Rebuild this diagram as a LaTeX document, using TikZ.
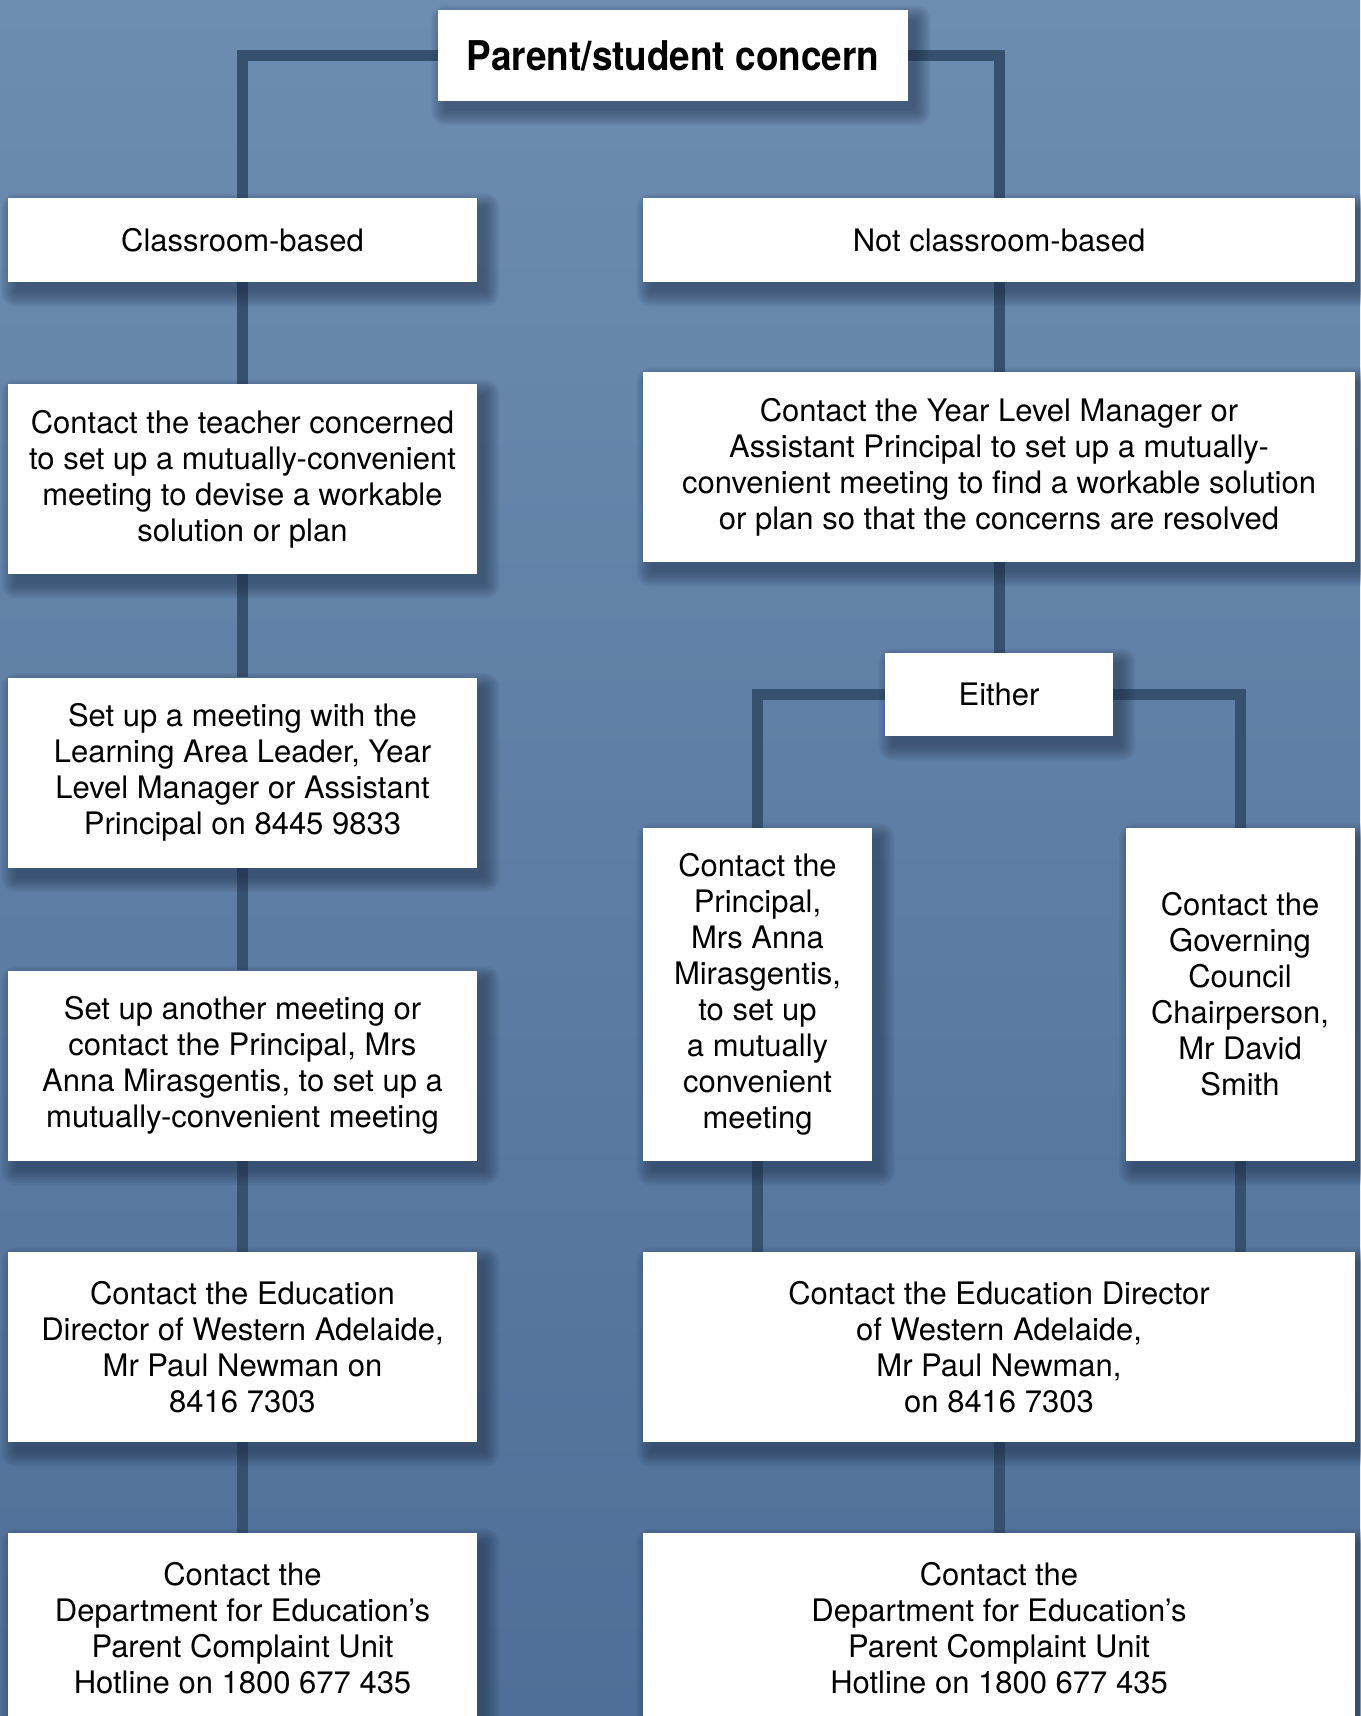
\documentclass[tikz,border=0pt]{standalone}
\usepackage{fontspec}
\setmainfont{TeX Gyre Heros}
\newfontfamily\titlefont{TeX Gyre Heros}[FakeStretch=0.9]
\usetikzlibrary{positioning}
\definecolor{PanelTop}{HTML}{6C8CB1}
\definecolor{PanelBottom}{HTML}{4F6F98}
\definecolor{LinkBlue}{HTML}{36506F}
\definecolor{ShadowBlue}{HTML}{1C2C44}
\pgfdeclarelayer{panel}
\pgfdeclarelayer{links}
\pgfdeclarelayer{shadowlayer}
\pgfsetlayers{panel,links,shadowlayer,main}

% soft shadow under a named card
\newcommand{\cardshadow}[1]{%
  \begin{pgfonlayer}{shadowlayer}
    \foreach \r in {0,2,...,14}
      \fill[ShadowBlue, opacity=0.075, rounded corners=\r*0.5pt]
        ([xshift=4pt-\r*0.5pt, yshift=-5pt+\r*0.5pt]#1.north west)
        rectangle ([xshift=4pt+\r*0.5pt, yshift=-5pt-\r*0.5pt]#1.south east);
  \end{pgfonlayer}}

\begin{document}
\begin{tikzpicture}[x=0.5pt, y=-0.5pt,
    font=\fontsize{15.5}{18}\selectfont,
    card/.style={shape=rectangle,
      fill=white,
      inner sep=0pt,
      align=center},
    leftcard/.style={card, minimum width=234.5pt, minimum height=95pt},
    widecard/.style={card, minimum width=356pt, minimum height=95pt},
    link/.style={draw=LinkBlue, line width=5.5pt}]
    \path [use as bounding box] (0,0) rectangle (1360,1716);
    \begin{pgfonlayer}{panel}
      \fill[top color=PanelTop, bottom color=PanelBottom] (0,0) rectangle (1360,1716);
    \end{pgfonlayer}

    \node[name=concern,
      card,
      minimum width=235pt,
      minimum height=45.5pt,
      font=\titlefont\bfseries\fontsize{20.5}{24}\selectfont] at (673,55.5) {Parent/student concern};

    % left column
    \node[name=classroom, leftcard, minimum height=42pt] at (242.5,240) {Classroom-based};
    \node[name=teacher, leftcard] at (242.5,479) {Contact the teacher concerned\\to set up a mutually-convenient\\meeting to devise a workable\\solution or plan};
    \node[name=leader, leftcard] at (242.5,772.5) {Set up a meeting with the\\Learning Area Leader, Year\\Level Manager or Assistant\\Principal on 8445 9833};
    \node[name=another, leftcard] at (242.5,1065.5) {Set up another meeting or\\contact the Principal, Mrs\\Anna Mirasgentis, to set up a\\mutually-convenient meeting};
    \node[name=directorl, leftcard] at (242.5,1347) {Contact the Education\\Director of Western Adelaide,\\Mr Paul Newman on\\8416 7303};
    \node[name=unitl, leftcard] at (242.5,1628) {Contact the\\Department for Education’s\\Parent Complaint Unit\\Hotline on 1800 677 435};

    % right column
    \node[name=notclass, widecard, minimum height=42pt] at (999,240) {Not classroom-based};
    \node[name=yearmgr, widecard] at (999,467) {Contact the Year Level Manager or\\Assistant Principal to set up a mutually-\\convenient meeting to find a workable solution\\or plan so that the concerns are resolved};
    \node[name=either, card, minimum width=114pt, minimum height=41.5pt] at (999,694.5) {Either};
    \node[name=principal, card, minimum width=114.5pt, minimum height=166.5pt] at (757.5,994.5) {Contact the\\Principal,\\Mrs Anna\\Mirasgentis,\\to set up\\a mutually\\convenient\\meeting};
    \node[name=council, card, minimum width=114.5pt, minimum height=166.5pt] at (1240,994.5) {Contact the\\Governing\\Council\\Chairperson,\\Mr David\\Smith};
    \node[name=directorr, widecard] at (999,1347) {Contact the Education Director\\of Western Adelaide,\\Mr Paul Newman,\\on 8416 7303};
    \node[name=unitr, widecard] at (999,1628) {Contact the\\Department for Education’s\\Parent Complaint Unit\\Hotline on 1800 677 435};

    \foreach \c in {concern,classroom,teacher,leader,another,directorl,unitl,
        notclass,yearmgr,either,principal,council,directorr,unitr}
      {\cardshadow{\c}}

    \begin{pgfonlayer}{links}
      \draw[link] (concern.west) -| (classroom.north);
      \draw[link] (concern.east) -| (notclass.north);
      \path (classroom) edge[link] (teacher);
      \path (teacher) edge[link] (leader);
      \path (leader) edge[link] (another);
      \path (another) edge[link] (directorl);
      \path (directorl) edge[link] (unitl);
      \path (notclass) edge[link] (yearmgr);
      \path (yearmgr) edge[link] (either);
      \draw[link] (either.west) -| (principal.north);
      \draw[link] (either.east) -| (council.north);
      \draw[link] (principal.south) -- (principal.south |- directorr.north);
      \draw[link] (council.south) -- (council.south |- directorr.north);
      \path (directorr) edge[link] (unitr);
    \end{pgfonlayer}
  \end{tikzpicture}
\end{document}
